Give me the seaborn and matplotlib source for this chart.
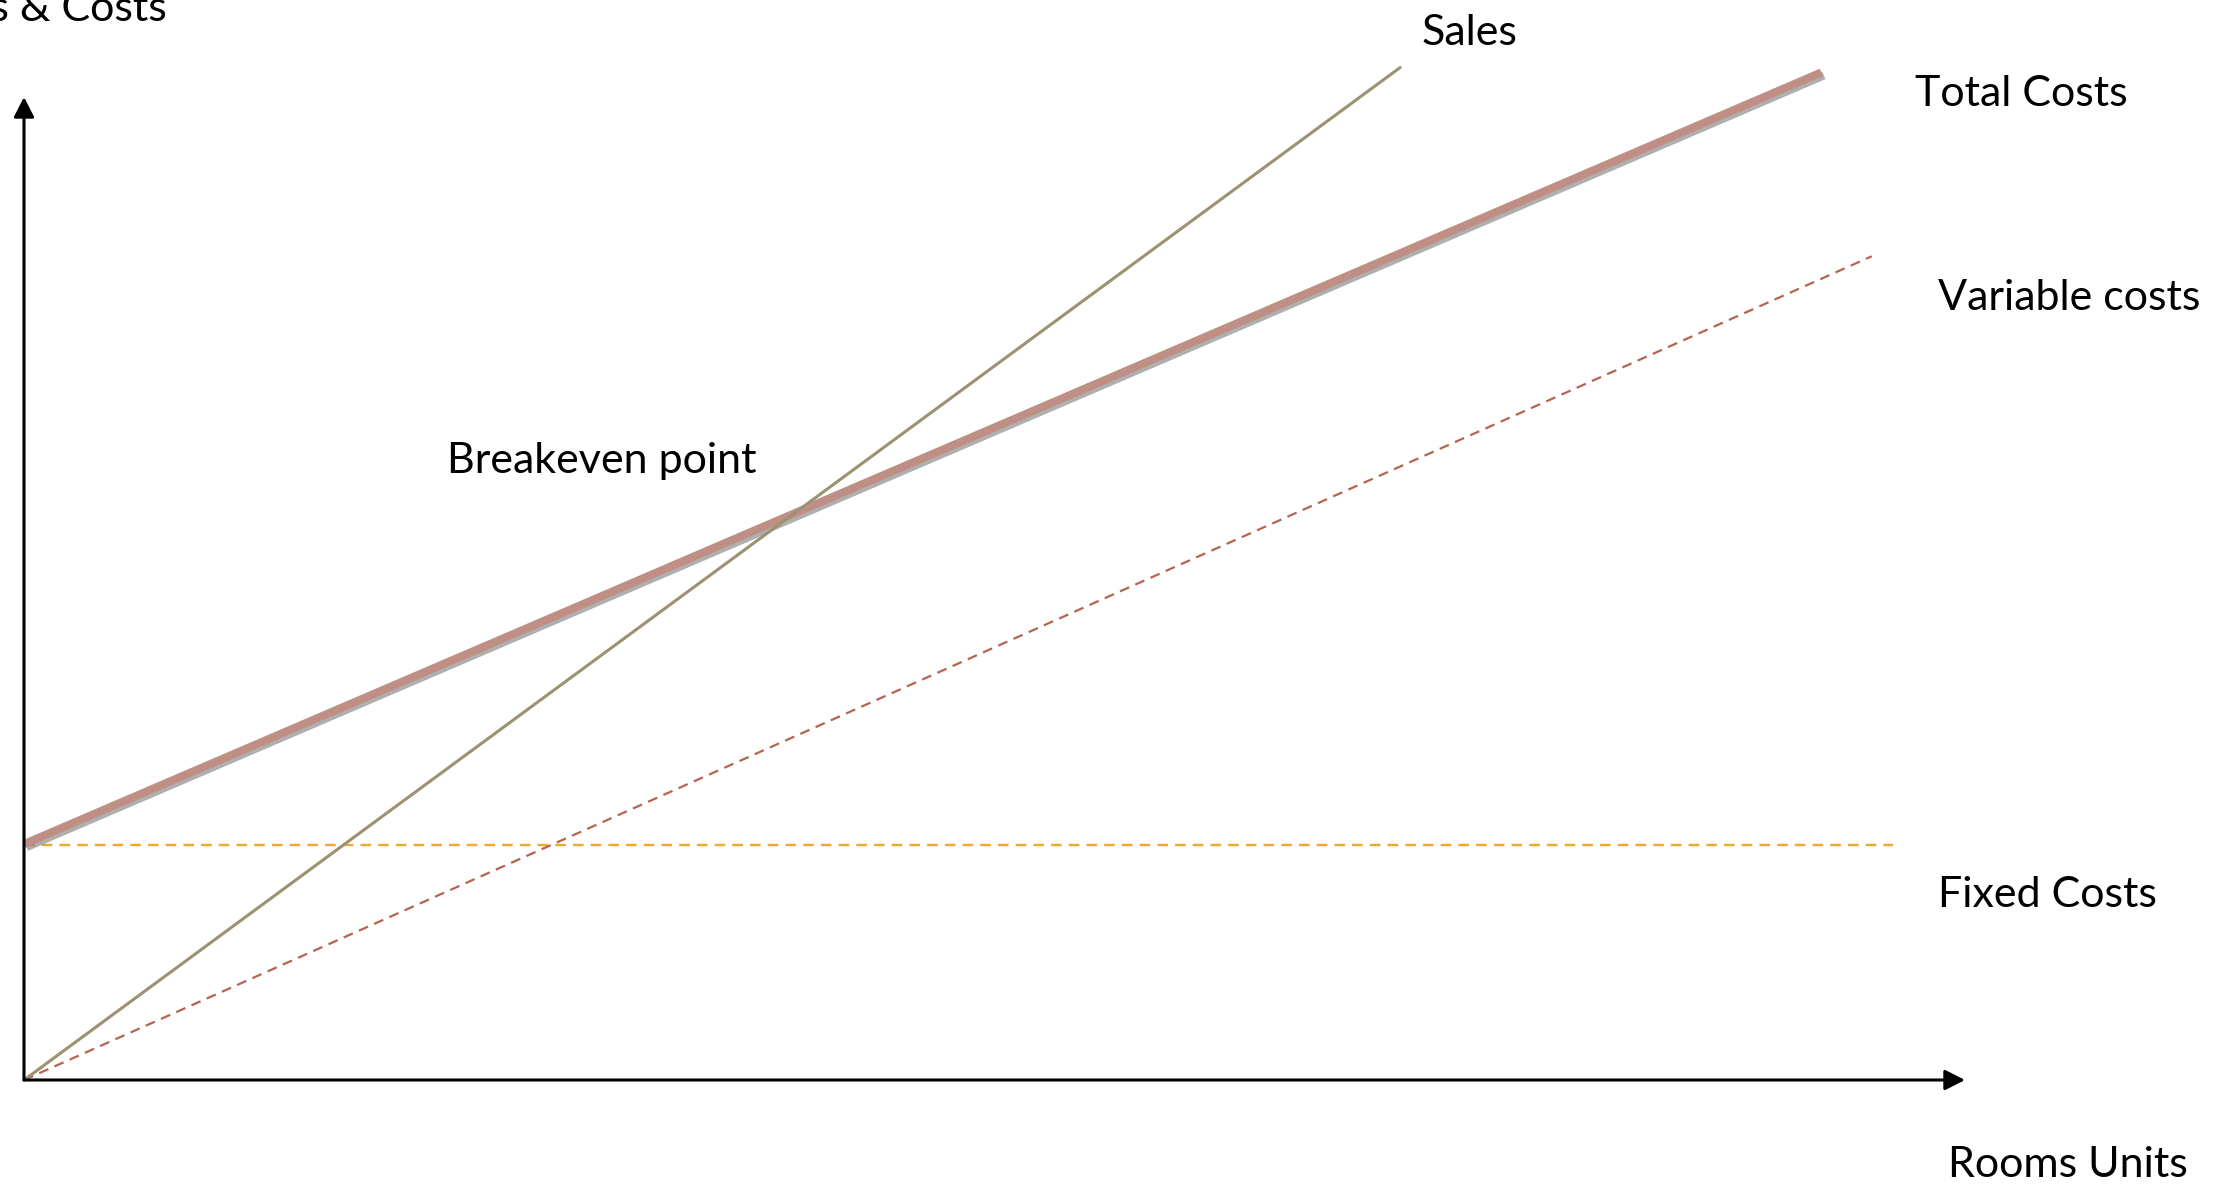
import matplotlib
matplotlib.use("Agg")
import matplotlib.pyplot as plt
import matplotlib.patheffects as pe
import seaborn as sns

# ---- data (chart units: x = room units, y = sales & costs) ----
sales_x = [0, 70.9]
sales_y = [0, 103.0]
total_x = [0, 92.6]
total_y = [24.0, 102.5]
variable_x = [0, 95.2]
variable_y = [0, 83.8]
fixed_x = [0, 96.3]
fixed_y = [23.9, 23.9]

labels = ["Sales", "Total Costs", "Variable costs", "Fixed Costs", "Breakeven point"]
x_axis_label = "Rooms Units"
y_axis_label = "Sales & Costs"

sns.set_theme(style="white")
plt.rcParams['font.family'] = ['Lato', 'DejaVu Sans']

fig = plt.figure(figsize=(22.28, 11.97), dpi=100)
ax = fig.add_axes([0, 0, 1, 1])
ax.set_xlim(-24 / 19.41, 2204 / 19.41)
ax.set_ylim(-117 / 9.83, 1080 / 9.83)
ax.axis("off")

# fixed costs
sns.lineplot(x=fixed_x, y=fixed_y, ax=ax, color="#F0A830", lw=1.7,
             linestyle=(0, (4.5, 3)))
# variable costs
sns.lineplot(x=variable_x, y=variable_y, ax=ax, color="#B5654F", lw=1.6,
             linestyle=(0, (4.5, 3)))
# total costs with shadow
sns.lineplot(x=total_x, y=total_y, ax=ax, color="#BF8F86", lw=5.8)
ax.lines[-1].set_path_effects([
    pe.SimpleLineShadow(offset=(1.8, -2.2), shadow_color="#6E6E6E", alpha=0.55),
    pe.Normal()])
ax.lines[-1].set_solid_capstyle("butt")
# sales
sns.lineplot(x=sales_x, y=sales_y, ax=ax, color="#9C9170", lw=2.2)

# axes arrows
arrow = dict(arrowstyle="-|>,head_length=0.55,head_width=0.28", lw=2.2,
             color="black", mutation_scale=22, shrinkA=0, shrinkB=0)
ax.annotate("", xy=(100, 0), xytext=(0, 0), arrowprops=arrow)
ax.annotate("", xy=(0, 100), xytext=(0, 0), arrowprops=arrow)

fs = 31
txt = dict(fontsize=fs, color="black", va="baseline")
ax.text(72.0, 105.3, labels[0], ha="left", **txt)
ax.text(97.4, 99.1, labels[1], ha="left", **txt)
ax.text(98.6, 78.3, labels[2], ha="left", **txt)
ax.text(98.6, 17.6, labels[3], ha="left", **txt)
ax.text(21.8, 61.7, labels[4], ha="left", **txt)
ax.text(99.1, -9.87, x_axis_label, ha="left", **txt)
ax.text(7.37, 107.7, y_axis_label, ha="right", **txt)

fig.savefig("out.png", dpi=100, facecolor="white")
